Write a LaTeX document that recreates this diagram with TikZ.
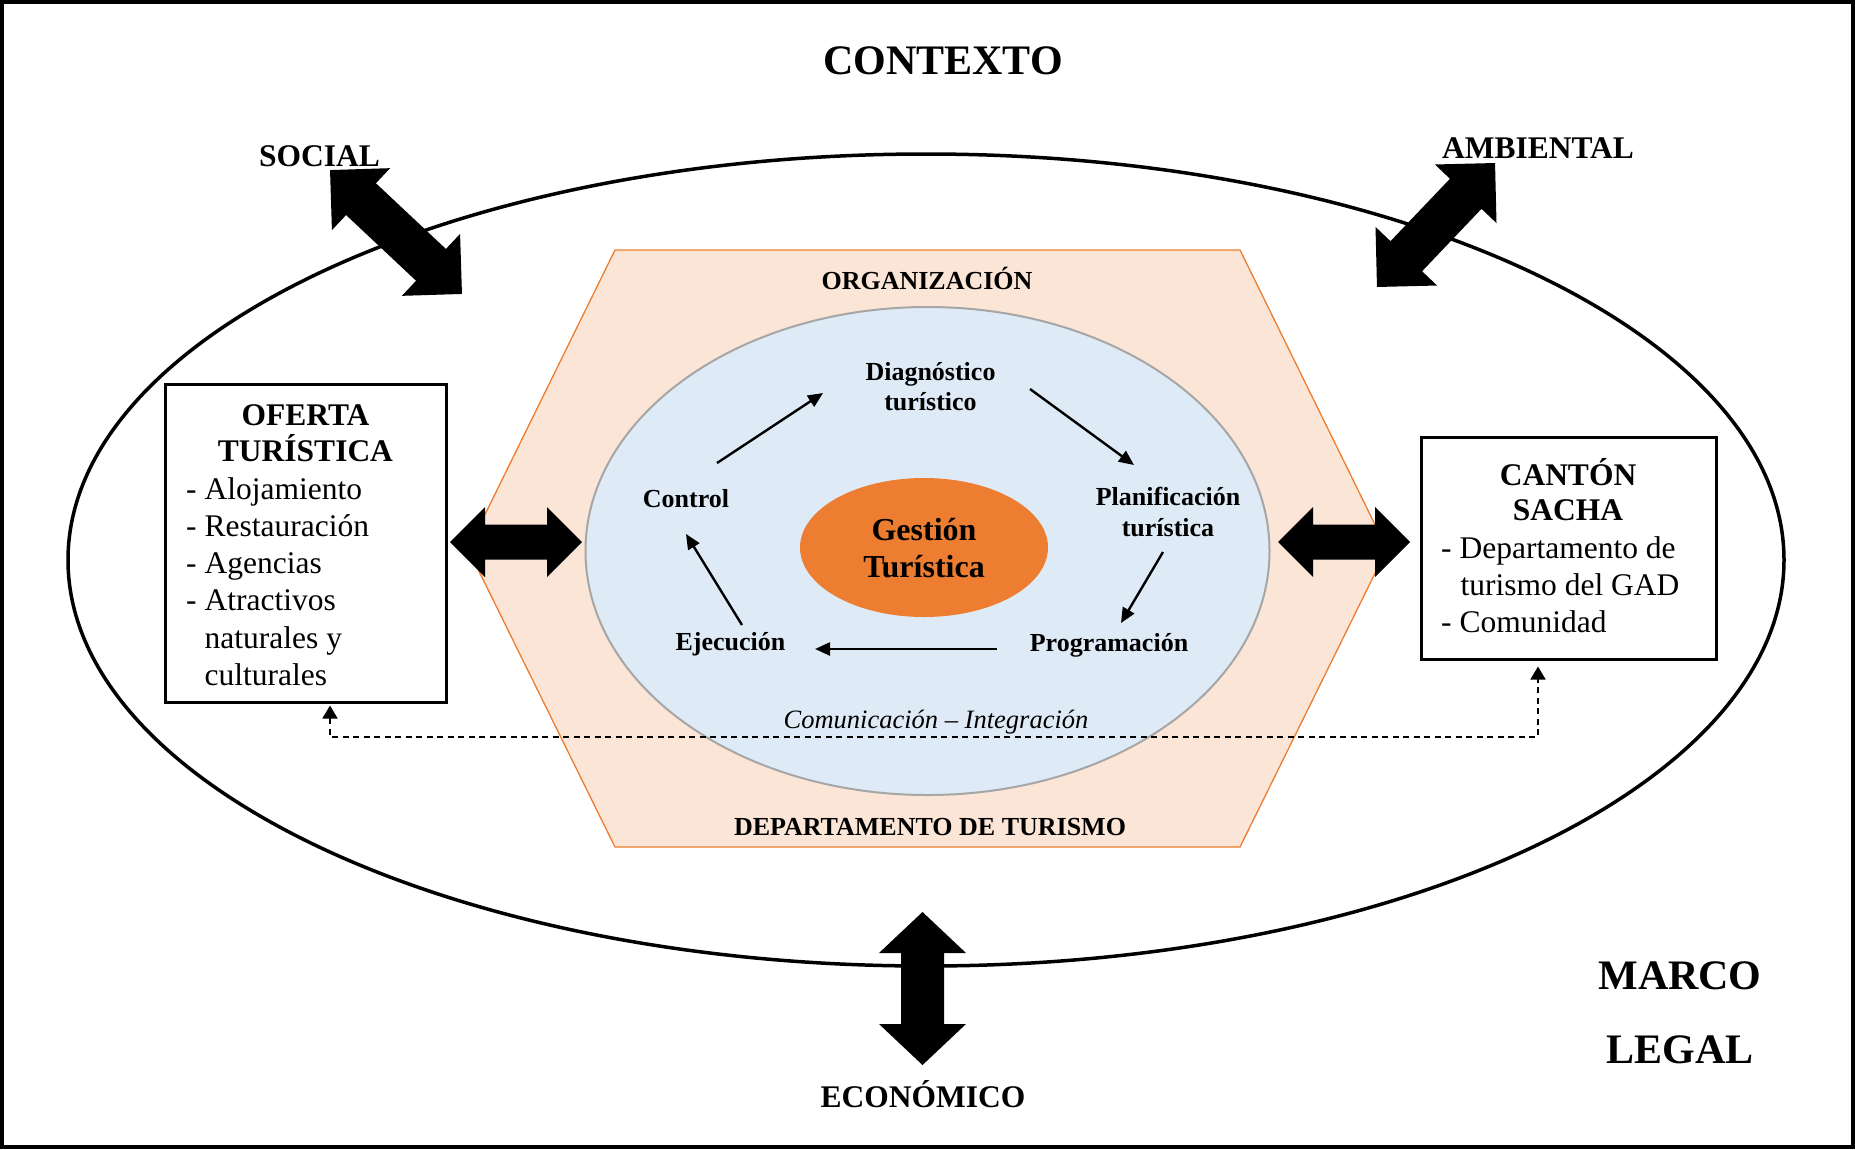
\documentclass[tikz,border=0pt]{standalone}
\usepackage{fontspec}
\setmainfont{Liberation Serif}
\usetikzlibrary{arrows.meta,calc}
\definecolor{hexfill}{HTML}{FBE5D6}
\definecolor{hexedge}{HTML}{ED7D31}
\definecolor{bluefill}{HTML}{DEEBF7}
\definecolor{blueedge}{HTML}{A6A6A6}
\definecolor{coreorange}{HTML}{ED7D31}
\tikzset{
  pics/dblarrow/.style args={#1/#2/#3/#4}{code={
    \fill[black] (-#1,0) -- ({-#1+#2},#3) -- ({-#1+#2},#4) -- ({#1-#2},#4) -- ({#1-#2},#3) -- (#1,0)
      -- ({#1-#2},-#3) -- ({#1-#2},-#4) -- ({-#1+#2},-#4) -- ({-#1+#2},-#3) -- cycle;
  }}
}
\begin{document}
\begin{tikzpicture}[x=1pt,y=1pt,
  bigtxt/.style={font=\fontsize{42}{48}\selectfont\bfseries, inner sep=0pt, anchor=base},
  midtxt/.style={font=\fontsize{31.5}{37}\selectfont\bfseries, inner sep=0pt, anchor=base},
  itemtxt/.style={font=\fontsize{31.5}{37}\selectfont, inner sep=0pt, anchor=base west},
  labtxt/.style={font=\fontsize{26}{30}\selectfont\bfseries, inner sep=0pt, anchor=base},
  coretxt/.style={font=\fontsize{32}{37}\selectfont\bfseries, inner sep=0pt, anchor=base},
  italtxt/.style={font=\fontsize{26.5}{30}\selectfont\itshape, inner sep=0pt, anchor=base},
  cyc/.style={line width=2.4pt, -{Triangle[length=15pt,width=13pt]}},
  dashlink/.style={line width=1.6pt, dash pattern=on 6pt off 4.5pt,
    {Triangle[length=13pt,width=15pt]}-{Triangle[length=13pt,width=15pt]}},
  infobox/.style={draw=black, line width=3pt, fill=white, inner sep=0pt},
]
\useasboundingbox (0,0) rectangle (1855,-1149);
\draw[line width=4pt] (2,-2) rectangle (1853,-1147);

% outer ellipse
\draw[line width=3.5pt] (926,-560) ellipse [x radius=858, y radius=406];

% hexagon
\filldraw[fill=hexfill, draw=hexedge, line width=1.3pt]
  (615,-250) -- (1240,-250) -- (1387,-549) -- (1240,-847) -- (615,-847) -- (468,-549) -- cycle;

% blue ellipse
\filldraw[fill=bluefill, draw=blueedge, line width=2pt] (927.5,-551) ellipse [x radius=342, y radius=244];

% core ellipse
\fill[coreorange] (924,-547.5) ellipse [x radius=124, y radius=69.5];

% titles
\node[bigtxt] (ctx) at (943,-74) {CONTEXTO};
\node[midtxt] (social) at (319.5,-166.5) {SOCIAL};
\node[midtxt] (ambiental) at (1538,-158.5) {AMBIENTAL};
\node[midtxt] (economico) at (923,-1107) {ECONÓMICO};
\node[bigtxt] (marco) at (1680,-989) {MARCO};
\node[bigtxt] (legal) at (1680,-1063) {LEGAL};

\node[labtxt] (org) at (927,-289) {ORGANIZACIÓN};
\node[labtxt] (dept) at (930,-835.5) {DEPARTAMENTO DE TURISMO};

% cycle labels
\node[labtxt] (diag1) at (930.5,-380) {Diagnóstico};
\node[labtxt] (diag2) at (930.5,-410) {turístico};
\node[labtxt] (plan1) at (1168,-505) {Planificación};
\node[labtxt] (plan2) at (1168,-536) {turística};
\node[labtxt] (prog) at (1109,-651) {Programación};
\node[labtxt] (ejec) at (730.5,-650) {Ejecución};
\node[labtxt] (ctrl) at (686,-507) {Control};
\node[coretxt] (gest1) at (924,-540) {Gestión};
\node[coretxt] (gest2) at (924,-577) {Turística};
\node[italtxt] (comun) at (936,-728) {Comunicación – Integración};

% cycle arrows
\coordinate (c1s) at (717,-463);  \coordinate (c1e) at (823,-393);
\coordinate (c2s) at (1030,-389); \coordinate (c2e) at (1134,-465);
\coordinate (c3s) at (1163,-552); \coordinate (c3e) at (1121,-623);
\coordinate (c4s) at (997,-649);  \coordinate (c4e) at (815,-649);
\coordinate (c5s) at (742,-625);  \coordinate (c5e) at (686,-534);
\draw[cyc] (c1s) -- (c1e);
\draw[cyc] (c2s) -- (c2e);
\draw[cyc] (c3s) -- (c3e);
\draw[cyc] (c4s) -- (c4e);
\draw[cyc] (c5s) -- (c5e);

% boxes
\node[infobox, minimum width=281pt, minimum height=318pt] (oferta) at (305.5,-543) {};
\node[midtxt] (of1) at (305.5,-425) {OFERTA};
\node[midtxt] (of2) at (305.5,-461.5) {TURÍSTICA};
\node[itemtxt] (oi1) at (186,-499) {- Alojamiento};
\node[itemtxt] (oi2) at (186,-536.5) {- Restauración};
\node[itemtxt] (oi3) at (186,-573.5) {- Agencias};
\node[itemtxt] (oi4) at (186,-610.5) {- Atractivos};
\node[itemtxt] (oi5) at (204.5,-648) {naturales y};
\node[itemtxt] (oi6) at (204.5,-685) {culturales};

\node[infobox, minimum width=295pt, minimum height=222pt] (canton) at (1568.5,-548) {};
\node[midtxt] (ca1) at (1568,-485) {CANTÓN};
\node[midtxt] (ca2) at (1568,-520.7) {SACHA};
\node[itemtxt] (ci1) at (1441,-558) {- Departamento de};
\node[itemtxt] (ci2) at (1460.5,-595) {turismo del GAD};
\node[itemtxt] (ci3) at (1441,-632) {- Comunidad};

% dashed link
\coordinate (dl) at (330,-737);
\coordinate (dr) at (1538,-737);
\draw[dashlink] ([yshift=-2pt]dl |- oferta.south) -- (dl) -- (dr) -- ([yshift=-6pt]dr |- canton.south);

% block arrows
\pic at (516,-542) {dblarrow=66/35/35/17.5};
\pic at (1344,-542) {dblarrow=66/35/35/17.5};
\pic[rotate=90] at (922.5,-988.5) {dblarrow=76.5/41/43.5/21.5};
\pic[rotate=-43.2] at (396,-232) {dblarrow=90.5/42.5/42.5/21.8};
\pic[rotate=46.4] at (1436,-225) {dblarrow=85.6/42.5/42.5/21.8};
\end{tikzpicture}
\end{document}
